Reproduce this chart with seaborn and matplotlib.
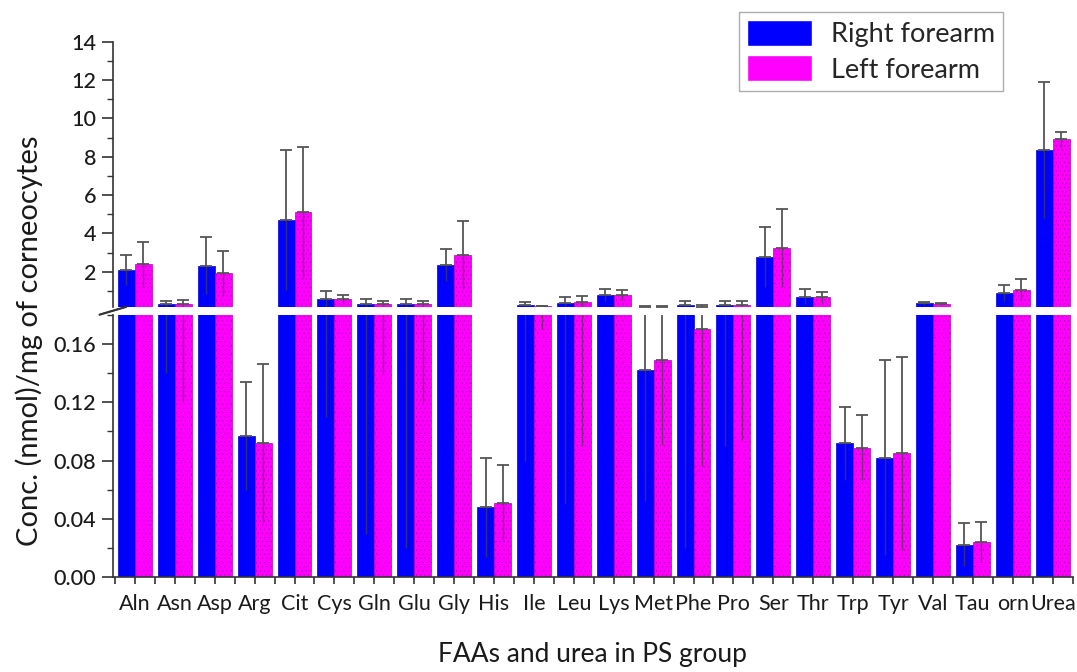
import numpy as np
import pandas as pd
import matplotlib
matplotlib.use('Agg')
import matplotlib.pyplot as plt
from matplotlib.ticker import MultipleLocator, FixedLocator, FormatStrFormatter
import seaborn as sns

# Free amino acids and urea, PS group
categories = ['Aln', 'Asn', 'Asp', 'Arg', 'Cit', 'Cys', 'Gln', 'Glu', 'Gly', 'His',
              'Ile', 'Leu', 'Lys', 'Met', 'Phe', 'Pro', 'Ser', 'Thr', 'Trp', 'Tyr',
              'Val', 'Tau', 'orn', 'Urea']
right_mean = [2.09, 0.30, 2.30, 0.097, 4.70, 0.55, 0.30, 0.30, 2.35, 0.048,
              0.25, 0.36, 0.78, 0.142, 0.25, 0.28, 2.78, 0.70, 0.092, 0.082,
              0.35, 0.0225, 0.90, 8.35]
right_sd = [0.78, 0.16, 1.49, 0.037, 3.65, 0.44, 0.27, 0.28, 0.82, 0.034,
            0.17, 0.31, 0.30, 0.09, 0.23, 0.19, 1.57, 0.38, 0.025, 0.067,
            0.08, 0.015, 0.41, 3.56]
left_mean = [2.39, 0.32, 1.92, 0.092, 5.10, 0.58, 0.30, 0.30, 2.87, 0.051,
             0.20, 0.42, 0.80, 0.149, 0.170, 0.28, 3.22, 0.66, 0.089, 0.085,
             0.33, 0.024, 1.05, 8.91]
left_sd = [1.17, 0.20, 1.18, 0.054, 3.42, 0.20, 0.16, 0.18, 1.77, 0.026,
           0.03, 0.33, 0.26, 0.058, 0.094, 0.186, 2.04, 0.30, 0.022, 0.066,
           0.05, 0.0136, 0.55, 0.39]
sides = ['Right forearm', 'Left forearm']
colors = ['#0000ff', '#ff00ff']

df = pd.DataFrame({
    'aa': categories * 2,
    'side': [sides[0]] * len(categories) + [sides[1]] * len(categories),
    'conc': right_mean + left_mean,
})
sds = [right_sd, left_sd]

sns.set_style('ticks')
plt.rcParams['font.family'] = ['Lato', 'DejaVu Sans']
plt.rcParams['hatch.linewidth'] = 0.4
ink = '#333333'
txt = '#1a1a1a'

fig = plt.figure(figsize=(10.77, 6.72), dpi=100)
left, width = 0.1049, 0.891
ax_top = fig.add_axes([left, 0.5438, width, 0.3941])
ax_bot = fig.add_axes([left, 0.1409, width, 0.3906])
limits = {ax_top: (0.18, 14), ax_bot: (0, 0.18)}

for ax in (ax_top, ax_bot):
    sns.barplot(data=df, x='aa', y='conc', hue='side', hue_order=sides,
                palette=colors, order=categories, width=0.85, errorbar=None,
                saturation=1, ax=ax, zorder=2)
    lo = limits[ax][0]
    bar_conts = list(ax.containers)
    for k, cont in enumerate(bar_conts):
        xs = np.array([b.get_x() + b.get_width() / 2 for b in cont])
        ys = np.array([b.get_height() for b in cont])
        err = np.array(sds[k])
        zero = np.zeros_like(err)
        for b in cont:
            b.set_linewidth(0.5)
            if k == 1:
                b.set_edgecolor('#b800b8')
                b.set_hatch('....')
            else:
                b.set_edgecolor('#0000dd')
            # bars ending below the break are not part of this segment
            if b.get_height() <= lo:
                b.set_visible(False)
        up = ys + err > lo
        ax.errorbar(xs[up], ys[up], yerr=[zero[up], err[up]], fmt='none',
                    ecolor='#555555', elinewidth=1.3, capsize=4, capthick=1.3,
                    zorder=3)
        dn = ys > lo
        ax.errorbar(xs[dn], ys[dn], yerr=[err[dn], zero[dn]], fmt='none',
                    ecolor='#444444', elinewidth=1.0, capsize=0, alpha=0.7,
                    zorder=3)
    ax.set_xlim(-0.55, 23.5)
    ax.set_ylim(*limits[ax])
    ax.set_ylabel('')
    ax.set_xlabel('')
    sns.despine(ax=ax)
    ax.spines['left'].set_color(ink)
    ax.spines['left'].set_linewidth(1.2)
    ax.tick_params(axis='y', direction='out', length=8, width=1.2, pad=4,
                   colors=ink, labelsize=15.5, labelcolor=txt)
    ax.tick_params(axis='y', which='minor', direction='out', length=4,
                   width=1.0, colors=ink)
    for lab in ax.get_yticklabels():
        lab.set_fontweight('medium')

handles, labels = ax_top.get_legend_handles_labels()
for ax in (ax_top, ax_bot):
    if ax.get_legend() is not None:
        ax.get_legend().remove()

# upper segment
ax_top.yaxis.set_major_locator(FixedLocator([2, 4, 6, 8, 10, 12, 14]))
ax_top.yaxis.set_minor_locator(MultipleLocator(1))
ax_top.spines['bottom'].set_visible(False)
ax_top.tick_params(axis='x', which='both', bottom=False, labelbottom=False)

# lower segment
ax_bot.yaxis.set_major_locator(FixedLocator([0, 0.04, 0.08, 0.12, 0.16]))
ax_bot.yaxis.set_minor_locator(MultipleLocator(0.02))
ax_bot.yaxis.set_major_formatter(FormatStrFormatter('%.2f'))
ax_bot.spines['bottom'].set_color(ink)
ax_bot.spines['bottom'].set_linewidth(1.2)
ax_bot.xaxis.set_minor_locator(FixedLocator(np.arange(len(categories) + 1) - 0.5))
ax_bot.tick_params(axis='x', which='both', direction='out', length=5, width=1.2,
                   colors=ink, labelsize=15.5, labelcolor=txt, pad=7)
ax_bot.set_xlabel('FAAs and urea in PS group', fontsize=19, color=txt,
                  labelpad=20)

# axis break marks
d = 0.014
kw = dict(color=ink, lw=1.3, clip_on=False)
ax_top.plot([-d, d], [-0.03, 0.0], transform=ax_top.transAxes, **kw)
ax_bot.plot([-d, d], [1.0, 1.03], transform=ax_bot.transAxes, **kw)

fig.text(0.027, 0.493, 'Conc. (nmol)/mg of corneocytes', rotation=90,
         ha='center', va='center', fontsize=21, color=txt)

leg = fig.legend(handles, labels, loc='upper right',
                 bbox_to_anchor=(1003 / 1077, 1 - 12 / 672), fontsize=19.5,
                 frameon=True, fancybox=False, edgecolor='#999999',
                 handlelength=2.4, handleheight=1.1, labelspacing=0.3,
                 borderpad=0.3, handletextpad=0.7, borderaxespad=0)
leg.get_frame().set_linewidth(1.0)

fig.savefig('out.png', dpi=100)
